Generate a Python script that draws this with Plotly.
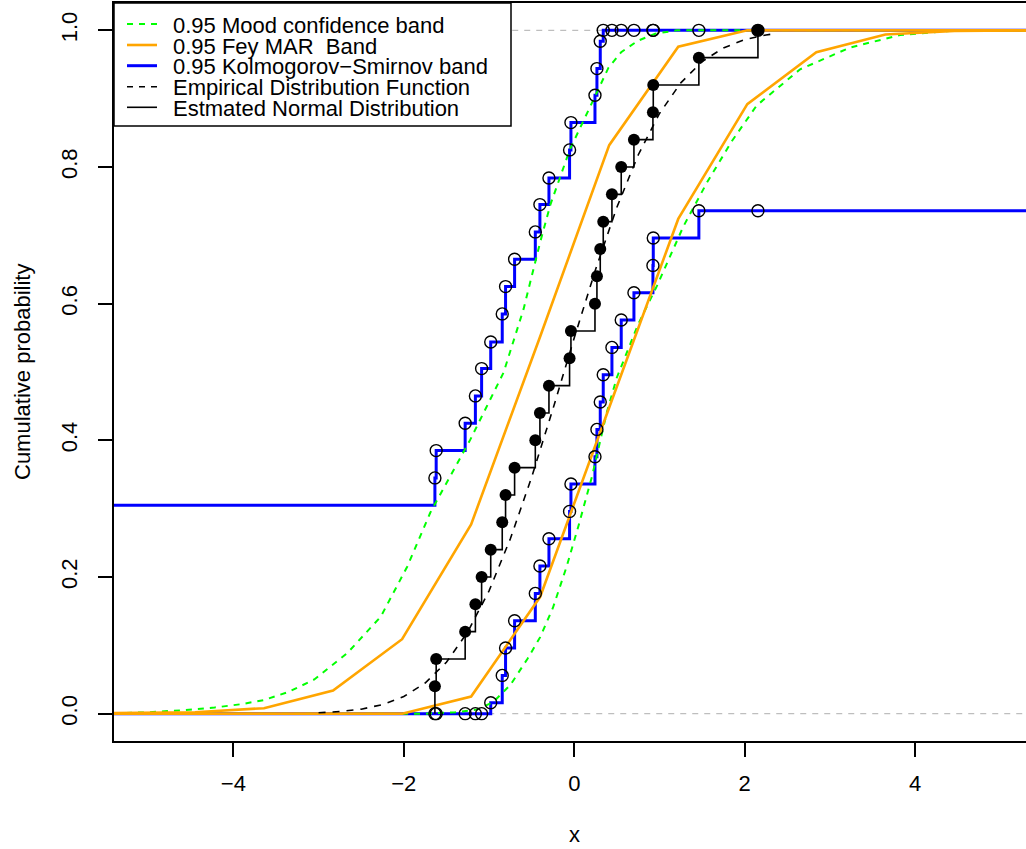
import plotly.graph_objects as go

# ---------------- data ----------------
# sorted sample values (filled points of the empirical step function)
sample_x = [-1.635, -1.62, -1.28, -1.16, -1.087, -0.98, -0.845, -0.806, -0.70,
            -0.457, -0.403, -0.297, -0.055, -0.039, 0.243, 0.266, 0.305, 0.34,
            0.442, 0.551, 0.70, 0.923, 0.927, 1.462, 2.155]
ecdf_y = [0.04, 0.08, 0.12, 0.16, 0.20, 0.24, 0.28, 0.32, 0.36, 0.40, 0.44, 0.48,
          0.52, 0.56, 0.60, 0.64, 0.68, 0.72, 0.76, 0.80, 0.84, 0.88, 0.92, 0.96, 1.00]

# Kolmogorov-Smirnov band (open circles at each sample value)
ks_upper_start = 0.305
ks_upper = [0.345, 0.385, 0.425, 0.465, 0.505, 0.544, 0.585, 0.625, 0.665, 0.705,
            0.745, 0.784, 0.825, 0.865, 0.905, 0.944, 0.984, 1.0, 1.0, 1.0,
            1.0, 1.0, 1.0, 1.0, 1.0]
ks_lower_start = 0.0
ks_lower = [0.0, 0.0, 0.0, 0.0, 0.0, 0.016, 0.056, 0.096, 0.136, 0.176,
            0.216, 0.256, 0.296, 0.336, 0.376, 0.416, 0.456, 0.496, 0.536, 0.576,
            0.616, 0.656, 0.696, 0.736, 0.736]

# Fey MAR band (piecewise linear)
fey_x = [-6.07, -5.26, -4.45, -3.64, -2.83, -2.02, -1.21, -0.40, 0.41, 1.22,
         2.03, 2.84, 3.65, 4.46, 5.27, 6.08]
fey_upper = [0.0, 0.0005, 0.002, 0.008, 0.034, 0.109, 0.277, 0.552, 0.832, 0.976,
             1.0, 1.0, 1.0, 1.0, 1.0, 1.0]
fey_lower = [0.0, 0.0, 0.0, 0.0, 0.0, 0.0, 0.025, 0.171, 0.448, 0.724,
             0.892, 0.968, 0.994, 0.999, 1.0, 1.0]

# Mood confidence band (green dashed curves)
mood_up_x = [-5.4, -5.0, -4.6, -4.22, -3.9, -3.64, -3.35, -3.05, -2.66, -2.27,
             -1.96, -1.69, -1.22, -0.83, -0.595, -0.40, -0.28, -0.05, 0.25, 0.40,
             0.55, 0.75, 0.95, 1.2, 5.4]
mood_up_y = [0.0005, 0.002, 0.005, 0.009, 0.014, 0.020, 0.032, 0.050, 0.089, 0.142,
             0.215, 0.294, 0.401, 0.499, 0.592, 0.69, 0.745, 0.826, 0.905, 0.945,
             0.968, 0.985, 0.995, 1.0, 1.0]
mood_lo_x = [-5.4, -1.75, -1.4, -1.14, -0.95, -0.75, -0.55, -0.40, -0.25, -0.09,
             0.05, 0.21, 0.38, 0.50, 0.75, 0.97, 1.28, 1.56, 1.85, 2.14,
             2.65, 3.24, 3.82, 4.4, 5.4]
mood_lo_y = [0.0, 0.0, 0.002, 0.006, 0.017, 0.042, 0.08, 0.112, 0.155, 0.215,
             0.275, 0.348, 0.44, 0.492, 0.57, 0.626, 0.713, 0.778, 0.838, 0.89,
             0.943, 0.975, 0.993, 0.999, 1.0]

# fitted normal distribution (black dashed curve)
norm_x = [-3.0, -2.75, -2.5, -2.25, -2.0, -1.75, -1.5, -1.25, -1.0, -0.75, -0.5,
          -0.25, 0.0, 0.25, 0.5, 0.75, 1.0, 1.25, 1.5, 1.75, 2.0, 2.25, 2.38]
norm_y = [0.0013, 0.0031, 0.0066, 0.0133, 0.0251, 0.0448, 0.0753, 0.1196, 0.1797,
          0.2559, 0.346, 0.446, 0.550, 0.650, 0.741, 0.8176, 0.8784, 0.9232,
          0.9543, 0.9743, 0.9864, 0.9932, 0.9954]

x_ticks = [-4, -2, 0, 2, 4]
y_ticks = [0.0, 0.2, 0.4, 0.6, 0.8, 1.0]
y_ticktext = ["0.0", "0.2", "0.4", "0.6", "0.8", "1.0"]

legend_labels = ["0.95 Mood confidence band", "0.95 Fey MAR  Band",
                 "0.95 Kolmogorov\u2212Smirnov band", "Empirical Distribution Function",
                 "Estmated Normal Distribution"]

# ---------------- styles ----------------
GREEN = "#00FF00"
ORANGE = "#FFA500"
BLUE = "#0000FF"
GREY = "#BEBEBE"
XMIN, XMAX = -5.4, 5.3
FAR_L, FAR_R = -6.5, 6.5

fig = go.Figure()

# grey reference lines
for h in [0.0, 1.0]:
    fig.add_trace(go.Scatter(x=[FAR_L, FAR_R], y=[h, h], mode="lines",
                             line=dict(color=GREY, width=1.3, dash="6px,6px"),
                             hoverinfo="skip", showlegend=False))

# KS band step lines
fig.add_trace(go.Scatter(x=[FAR_L] + sample_x + [FAR_R],
                         y=[ks_upper_start] + ks_upper + [ks_upper[-1]],
                         mode="lines", line=dict(color=BLUE, width=3, shape="hv"),
                         showlegend=False))
fig.add_trace(go.Scatter(x=[FAR_L] + sample_x + [FAR_R],
                         y=[ks_lower_start] + ks_lower + [ks_lower[-1]],
                         mode="lines", line=dict(color=BLUE, width=3, shape="hv"),
                         showlegend=False))

# Mood band
fig.add_trace(go.Scatter(x=mood_up_x, y=mood_up_y, mode="lines",
                         line=dict(color=GREEN, width=2, dash="6px,6px"), showlegend=False))
fig.add_trace(go.Scatter(x=mood_lo_x, y=mood_lo_y, mode="lines",
                         line=dict(color=GREEN, width=2, dash="6px,6px"), showlegend=False))

# Fey band
fig.add_trace(go.Scatter(x=fey_x, y=fey_upper, mode="lines",
                         line=dict(color=ORANGE, width=2.6), showlegend=False))
fig.add_trace(go.Scatter(x=fey_x, y=fey_lower, mode="lines",
                         line=dict(color=ORANGE, width=2.6), showlegend=False))

# normal curve
fig.add_trace(go.Scatter(x=norm_x, y=norm_y, mode="lines",
                         line=dict(color="black", width=1.6, dash="7px,7px"), showlegend=False))

# empirical step function
fig.add_trace(go.Scatter(x=[sample_x[0]] + sample_x, y=[0.0] + ecdf_y, mode="lines",
                         line=dict(color="black", width=1.6, shape="hv"), showlegend=False))

# open circles of the KS band
fig.add_trace(go.Scatter(x=sample_x + sample_x, y=ks_upper + ks_lower, mode="markers",
                         marker=dict(symbol="circle-open", size=12, color="black",
                                     line=dict(width=1.4, color="black")),
                         showlegend=False))

# filled points
fig.add_trace(go.Scatter(x=sample_x, y=ecdf_y, mode="markers",
                         marker=dict(symbol="circle", size=12, color="black"),
                         showlegend=False))

# ---------------- layout ----------------
L, R, T, B = 114, 0, 3, 108
W, H = 1026, 849
PW = W - L - R
PH = H - T - B


def px(xp):
    return (xp - L) / PW


def py(yp):
    return (H - B - yp) / PH


fig.update_layout(
    width=W, height=H,
    margin=dict(l=L, r=R, t=T, b=B, pad=0),
    paper_bgcolor="white", plot_bgcolor="white",
    showlegend=False,
    font=dict(family="Liberation Sans, Arial, Helvetica, sans-serif", size=22, color="black"),
    xaxis=dict(range=[XMIN, XMAX], tickvals=x_ticks, ticks="outside", ticklen=14,
               tickwidth=1.5, tickcolor="black", showline=True, linecolor="black",
               linewidth=1.5, mirror=True, showgrid=False, zeroline=False,
               ticklabelstandoff=8, tickfont=dict(size=22)),
    yaxis=dict(range=[-0.04, 1.04], tickvals=y_ticks, ticktext=y_ticktext,
               tickangle=-90, ticks="outside", ticklen=14, tickwidth=1.5,
               tickcolor="black", showline=True, linecolor="black", linewidth=1.5,
               mirror=False, showgrid=False, zeroline=False,
               ticklabelstandoff=12, tickfont=dict(size=22)),
)

annotations = [
    dict(text="x", xref="paper", yref="paper", x=px(574), y=py(835),
         xanchor="center", yanchor="middle", showarrow=False, font=dict(size=22)),
    dict(text="Cumulative probability", xref="paper", yref="paper", x=px(22), y=0.5,
         xanchor="center", yanchor="middle", textangle=-90, showarrow=False,
         font=dict(size=22)),
]

shapes = [
    dict(type="rect", xref="paper", yref="paper", x0=px(114), x1=px(511),
         y0=py(126), y1=py(3), fillcolor="white", line=dict(color="black", width=1.5),
         layer="above"),
]
legend_styles = [
    dict(color=GREEN, width=2, dash="6px,6px"),
    dict(color=ORANGE, width=2.6),
    dict(color=BLUE, width=3),
    dict(color="black", width=1.6, dash="6px,6px"),
    dict(color="black", width=1.6),
]
row_y = [24, 45, 65.7, 86.7, 107.3]
for lab, sty, ry in zip(legend_labels, legend_styles, row_y):
    shapes.append(dict(type="line", xref="paper", yref="paper", x0=px(127), x1=px(157),
                       y0=py(ry), y1=py(ry), line=sty, layer="above"))
    annotations.append(dict(text=lab, xref="paper", yref="paper", x=px(171), y=py(ry + 1),
                            xanchor="left", yanchor="middle", showarrow=False,
                            font=dict(size=22)))

fig.update_layout(shapes=shapes, annotations=annotations)

fig.write_html("out.html")
